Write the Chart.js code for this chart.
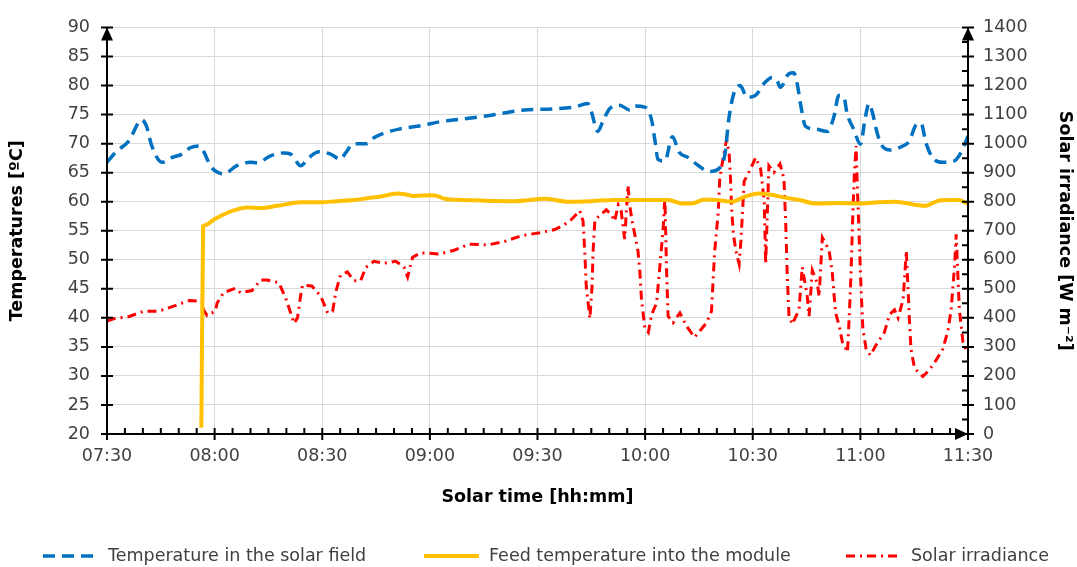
<!DOCTYPE html>
<html>
<head>
<meta charset="utf-8">
<script src="https://cdn.jsdelivr.net/npm/chart.js@4.4.0/dist/chart.umd.min.js"></script>
<style>
  html, body { margin: 0; padding: 0; background: #fff; }
  #wrap { width: 1077px; height: 567px; }
</style>
</head>
<body>
<div id="wrap"><canvas id="chart" width="1077" height="567"></canvas></div>
<script>
// minutes after 07:30 solar time
const fieldTimes = [0, 2.7, 6, 9.7, 11, 12.5, 15.3, 18, 20.9, 23.2, 25.5, 26.9, 28.8, 30.7, 32.5, 36.2, 40, 41.8, 45.6, 49.3,
    51.2, 54, 56.3, 59.1, 62.3, 65.1, 66.5, 68.8, 72.5, 74.4, 77.2, 81.4, 88.4, 93.1, 98.7, 107.1, 116.3, 124.7, 130.3, 134,
    135, 136.8, 138.2, 140.1, 142.9, 145.7, 147.1, 149.9, 151.8, 152.7, 153.6, 155.5, 157.6, 159.5, 162, 164.9, 167.7, 170.9, 172.3, 173.3,
    174.7, 176.5, 178.4, 180.7, 183.5, 185.4, 186.8, 187.7, 190, 191.4, 192.4, 193.3, 194.7, 197.5, 200.8, 202.6, 204, 205.4, 206.3, 208.2,
    210, 211.4, 212.4, 213.3, 214.7, 216.1, 218.4, 221.8, 223.6, 225.5, 226.9, 228.3, 230.1, 232.9, 236.1, 238, 240];
const fieldTemps = [66.8, 68.7, 70.4, 74.1, 73, 69.6, 66.8, 67.6, 68.2, 69.3, 69.6, 68.7, 66.2, 65.1, 64.8, 66.2, 66.8, 66.7, 67.9, 68.4,
    68.2, 66.2, 67.6, 68.6, 68.2, 67.3, 68.4, 70, 70, 71, 71.8, 72.5, 73.2, 73.8, 74.2, 74.9, 75.8, 76, 76.3, 76.9,
    75.5, 72.1, 73.8, 76, 76.6, 75.8, 76.5, 76.3, 74.1, 70.7, 67.3, 67.0, 71.2, 68.5, 67.6, 66.2, 65.2, 65.9, 68.4, 74.1,
    78.6, 80, 78, 78.3, 80.6, 81.4, 80.8, 79.7, 82, 82.2, 80.3, 76.9, 73, 72.5, 72.1, 74.6, 78.3, 78, 75.2, 72.4,
    69.9, 74.6, 76.9, 75.5, 71.8, 69.6, 68.9, 69.6, 70.4, 73.2, 73.5, 70.1, 67.6, 66.8, 67.0, 68.4, 71.3];

const feedTimes = [26.3, 26.8, 27.5, 29.7, 32.5, 35.3, 39, 42.8, 47.4, 54, 59.6, 64, 68.8, 72.5, 76.3, 80.9, 83, 85.5, 90.3, 92,
    94, 99, 104.3, 113.6, 122, 128.4, 135, 141.5, 150, 156.5, 160.2, 163, 166.7, 170, 174.1, 177.5, 181.6, 185, 189, 193,
    197.5, 204, 210.5, 215, 219.8, 225, 228.2, 231.9, 235, 237.5, 240];
const feedTemps = [21.1, 55.8, 56.0, 56.9, 57.8, 58.5, 59.0, 58.9, 59.3, 59.9, 59.9, 60.1, 60.3, 60.6, 60.9, 61.4, 61.3, 61.0, 61.1, 61.0,
    60.5, 60.3, 60.2, 60.1, 60.5, 60.0, 60.1, 60.3, 60.3, 60.3, 59.7, 59.7, 60.4, 60.3, 60.0, 60.8, 61.4, 61.2, 60.7, 60.3,
    59.7, 59.8, 59.7, 59.9, 60.0, 59.5, 59.3, 60.2, 60.3, 60.3, 59.6];

const irrTimes = [0, 1.8, 6, 10.2, 14.4, 19, 23, 26.5, 26.9, 27.9, 30.2, 30.7, 32.5, 35.8, 37.2, 40.4, 42.8, 44.6, 47.9, 49.8,
    51.2, 52.1, 53.1, 54, 54.5, 57.1, 59.6, 61.5, 62.9, 63.8, 65.1, 67, 68.8, 70.7, 72.1, 74.4, 77.2, 80.5, 82.8, 83.8,
    85.2, 87.5, 92.6, 96.8, 101, 106.2, 110.8, 115.5, 120.6, 124.8, 127.5, 129.4, 131.8, 132.7, 133.2, 133.6, 134.6, 135.2, 135.5, 136,
    139.2, 140.6, 141.5, 142.5, 143.3, 144.3, 145.2, 145.7, 146.3, 147.1, 148, 148.5, 149, 149.9, 150.9, 151.8, 153.2, 154.1, 155.1, 155.5,
    156, 156.4, 157.8, 159.7, 161.5, 163.8, 167.1, 168.5, 169, 169.4, 170.4, 170.8, 171.7, 172.7, 173.4, 173.8, 174.1, 174.6, 175.3, 176.2,
    176.7, 177.3, 177.6, 179.4, 180.8, 182.2, 183.2, 183.6, 184.5, 185.9, 187.6, 188.7, 189.2, 189.6, 190.1, 191, 192.9, 193.8, 195.2, 195.7,
    196.6, 198, 198.5, 199.4, 200.4, 201.3, 202.2, 202.7, 203.1, 204.1, 205, 206.4, 206.9, 207.4, 207.8, 208.3, 208.8, 209.2, 209.7, 210.2,
    210.7, 211.6, 212.8, 214.4, 216.7, 218.1, 219.5, 220.5, 221.9, 222.4, 222.8, 223.3, 223.7, 224.1, 225.1, 227.4, 229.2, 231.1, 233, 234.4,
    235.3, 235.8, 236.3, 236.7, 237.2, 237.6, 238.6, 239.5];
const irrValues = [389, 397, 404, 423, 423, 442, 460, 457, 428, 408, 423, 451, 487, 502, 487, 494, 530, 530, 521, 468,
    417, 381, 400, 479, 513, 510, 474, 417, 423, 491, 547, 558, 528, 528, 573, 595, 588, 595, 575, 541,
    609, 624, 620, 633, 654, 651, 663, 683, 693, 704, 721, 738, 769, 733, 620, 507, 398, 507, 631, 738,
    772, 755, 733, 789, 770, 671, 856, 789, 738, 688, 631, 563, 462, 367, 350, 411, 451, 575, 721, 817,
    552, 406, 383, 417, 372, 333, 383, 423, 541, 631, 766, 879, 947, 1014, 969, 879, 777, 688, 631, 586,
    665, 800, 870, 913, 952, 913, 800, 586, 924, 901, 930, 879, 721, 552, 406, 378, 428, 575, 474, 406,
    563, 519, 474, 676, 654, 631, 552, 474, 417, 372, 316, 282, 406, 552, 721, 890, 992, 834, 665, 496,
    361, 293, 271, 307, 350, 411, 428, 400, 462, 552, 631, 496, 383, 293, 226, 198, 220, 254, 293, 355,
    428, 507, 586, 688, 541, 428, 316, 288];

const seriesLabels = ['Temperature in the solar field', 'Feed temperature into the module', 'Solar irradiance'];

const FONT = 'DejaVu Sans, Verdana, sans-serif';

function toPoints(xs, ys) {
    return xs.map((x, i) => ({ x: x, y: ys[i] }));
}

function fmtTime(v) {
    const total = 450 + Math.round(v);
    const hh = Math.floor(total / 60);
    const mm = total % 60;
    return String(hh).padStart(2, '0') + ':' + String(mm).padStart(2, '0');
}

// axis lines, crossing tick marks and arrow heads
const axisDecor = {
    id: 'axisDecor',
    afterDatasetsDraw(chart) {
        const ctx = chart.ctx;
        const a = chart.chartArea;
        const xs = chart.scales.x, yl = chart.scales.y, yr = chart.scales.y1;
        ctx.save();
        ctx.strokeStyle = '#000';
        ctx.fillStyle = '#000';
        ctx.lineWidth = 2;
        ctx.beginPath();
        ctx.moveTo(a.left, a.bottom); ctx.lineTo(a.left, a.top);
        ctx.moveTo(a.right, a.bottom); ctx.lineTo(a.right, a.top);
        ctx.moveTo(a.left, a.bottom); ctx.lineTo(a.right, a.bottom);
        // left ticks
        for (let v = 20; v <= 90; v += 5) {
            const y = yl.getPixelForValue(v);
            ctx.moveTo(a.left - 6, y); ctx.lineTo(a.left + 6, y);
        }
        // right ticks (major 100, minor 50)
        for (let v = 0; v <= 1400; v += 50) {
            const y = yr.getPixelForValue(v);
            if (v % 100 === 0) { ctx.moveTo(a.right - 6, y); ctx.lineTo(a.right + 6, y); }
            else { ctx.moveTo(a.right - 6, y); ctx.lineTo(a.right, y); }
        }
        // x ticks (major 30 min, minor 5 min)
        for (let v = 0; v <= 240; v += 5) {
            const x = xs.getPixelForValue(v);
            if (v % 30 === 0) { ctx.moveTo(x, a.bottom - 6); ctx.lineTo(x, a.bottom + 6); }
            else { ctx.moveTo(x, a.bottom - 6); ctx.lineTo(x, a.bottom); }
        }
        ctx.stroke();
        // arrows
        const tri = (p) => { ctx.beginPath(); ctx.moveTo(p[0], p[1]); ctx.lineTo(p[2], p[3]); ctx.lineTo(p[4], p[5]); ctx.closePath(); ctx.fill(); };
        tri([a.left, a.top, a.left - 6, a.top + 13, a.left + 6, a.top + 13]);
        tri([a.right, a.top, a.right - 6, a.top + 13, a.right + 6, a.top + 13]);
        tri([a.right, a.bottom, a.right - 13, a.bottom - 6, a.right - 13, a.bottom + 6]);
        ctx.restore();
    }
};

// legend row along the bottom
const bottomLegend = {
    id: 'bottomLegend',
    afterDraw(chart, args, opts) {
        const ctx = chart.ctx;
        ctx.save();
        ctx.font = opts.font;
        ctx.textBaseline = 'middle';
        chart.data.datasets.forEach((ds, i) => {
            const x0 = opts.starts[i];
            ctx.strokeStyle = ds.borderColor;
            ctx.lineWidth = ds.borderWidth;
            ctx.setLineDash(ds.borderDash || []);
            ctx.beginPath();
            ctx.moveTo(x0, opts.y);
            ctx.lineTo(x0 + opts.lineLen, opts.y);
            ctx.stroke();
            ctx.setLineDash([]);
            ctx.fillStyle = opts.color;
            ctx.fillText(ds.label, x0 + opts.lineLen + 10, opts.y);
        });
        ctx.restore();
    }
};

const ctx = document.getElementById('chart').getContext('2d');
new Chart(ctx, {
    type: 'line',
    data: {
        datasets: [
            {
                label: seriesLabels[0],
                data: toPoints(fieldTimes, fieldTemps),
                yAxisID: 'y',
                borderColor: '#0070c0',
                borderWidth: 3.5,
                borderDash: [12, 7],
                cubicInterpolationMode: 'monotone',
                pointRadius: 0
            },
            {
                label: seriesLabels[1],
                data: toPoints(feedTimes, feedTemps),
                yAxisID: 'y',
                borderColor: '#ffc000',
                borderWidth: 4,
                cubicInterpolationMode: 'monotone',
                pointRadius: 0
            },
            {
                label: seriesLabels[2],
                data: toPoints(irrTimes, irrValues),
                yAxisID: 'y1',
                borderColor: '#ff0000',
                borderWidth: 3,
                borderDash: [9, 5, 2, 5],
                tension: 0,
                pointRadius: 0
            }
        ]
    },
    options: {
        responsive: false,
        animation: false,
        devicePixelRatio: 1,
        layout: { padding: { top: 19, bottom: 55, left: 0, right: 0 } },
        plugins: {
            legend: { display: false },
            tooltip: { enabled: false },
            bottomLegend: {
                starts: [43, 424, 846],
                lineLen: 55,
                y: 556,
                font: '17.5px ' + FONT,
                color: '#404040'
            }
        },
        scales: {
            x: {
                type: 'linear',
                min: 0,
                max: 240,
                afterFit: s => { s.height = 78; },
                grid: { color: '#d9d9d9', lineWidth: 1, drawTicks: false },
                border: { display: false },
                ticks: {
                    stepSize: 30,
                    padding: 12,
                    color: '#404040',
                    font: { family: FONT, size: 17.5 },
                    maxRotation: 0,
                    callback: v => fmtTime(v)
                },
                title: {
                    display: true,
                    text: 'Solar time [hh:mm]',
                    color: '#000',
                    font: { family: FONT, size: 17.5, weight: 'bold' }
                }
            },
            y: {
                position: 'left',
                min: 20,
                max: 90,
                afterFit: s => { s.width = 107; },
                grid: { color: '#d9d9d9', lineWidth: 1, drawTicks: false },
                border: { display: false },
                ticks: {
                    stepSize: 5,
                    padding: 17,
                    color: '#404040',
                    font: { family: FONT, size: 17.5 },
                    callback: v => String(v)
                },
                title: {
                    display: true,
                    text: 'Temperatures [ºC]',
                    color: '#000',
                    padding: { top: 7, bottom: 4 },
                    font: { family: FONT, size: 17.5, weight: 'bold' }
                }
            },
            y1: {
                position: 'right',
                min: 0,
                max: 1400,
                afterFit: s => { s.width = 109; },
                grid: { drawOnChartArea: false, drawTicks: false },
                border: { display: false },
                ticks: {
                    stepSize: 100,
                    padding: 15,
                    color: '#404040',
                    font: { family: FONT, size: 17.5 },
                    callback: v => String(v)
                },
                title: {
                    display: true,
                    text: 'Solar irradiance [W m⁻²]',
                    color: '#000',
                    padding: { top: 2, bottom: 4 },
                    font: { family: FONT, size: 17.5, weight: 'bold' }
                }
            }
        }
    },
    plugins: [axisDecor, bottomLegend]
});
</script>
</body>
</html>
